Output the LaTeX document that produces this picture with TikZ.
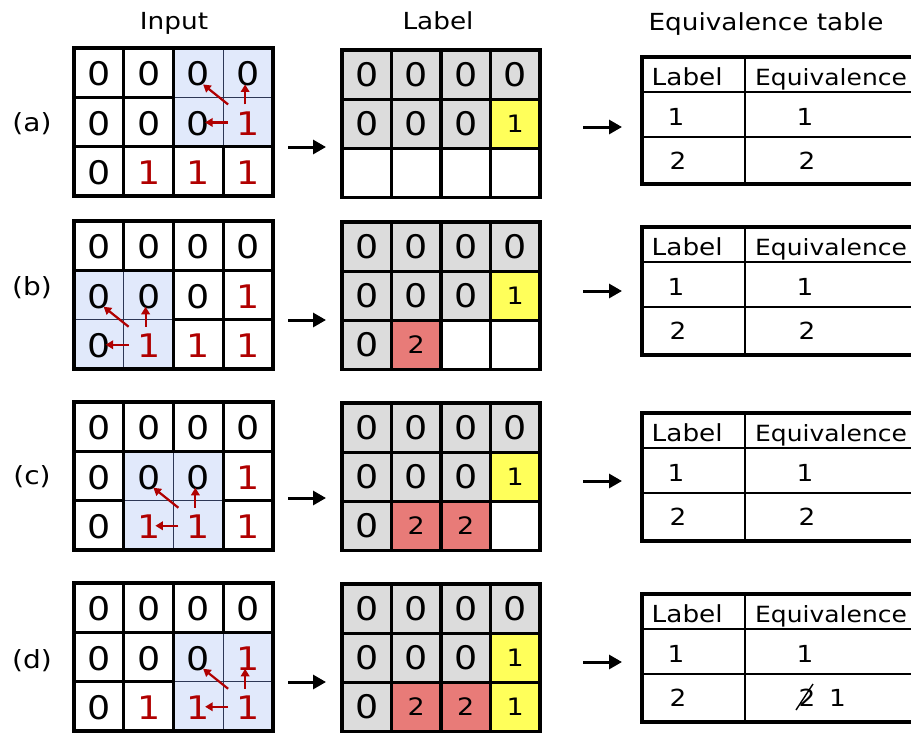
\documentclass[tikz,border=0pt]{standalone}
\usepackage{fontspec}
\setmainfont{DejaVu Sans}[FakeStretch=1.12]
\usetikzlibrary{arrows.meta,calc}
\definecolor{cellblue}{RGB}{225,233,251}
\definecolor{navyline}{RGB}{45,55,85}
\definecolor{cellgray}{RGB}{220,220,220}
\definecolor{cellyellow}{RGB}{255,255,90}
\definecolor{cellred}{RGB}{232,123,120}
\definecolor{darkred}{RGB}{176,0,0}
\tikzset{
  bigdigit/.style={font=\fontsize{32.5}{36}\selectfont},
  smalldigit/.style={font=\fontsize{24}{28}\selectfont},
  txt/.style={font=\fontsize{23.5}{27}\selectfont, inner sep=0pt},
  eqtxt/.style={font=\fontsize{22.3}{26}\selectfont, inner sep=0pt},
  digitnode/.style={inner sep=0pt},
  gridline/.style={line width=3.2pt},
  labcell/.style={minimum width=49.5pt, minimum height=49.2pt, inner sep=0pt, draw=none},
  redarrow/.style={draw=darkred, line width=2.2pt, -{Triangle[length=7.5pt,width=8.5pt]}},
  flowarrow/.style={draw=black, line width=3pt, -{Triangle[length=13pt,width=14pt]}},
  tabouter/.style={line width=3.4pt},
  tabinner/.style={line width=1.7pt},
}
\begin{document}
\begin{tikzpicture}[x=1pt,y=-1pt]
\useasboundingbox (0,0) rectangle (911,732);
\clip (0,0) rectangle (911,732);
\def\iw{49.75}\def\ih{49.3}\def\lw{49.5}\def\lh{49.2}

% titles
\node[txt, anchor=base] (title-in) at (174,29) {Input};
\node[txt, anchor=base] (title-lab) at (438,29) {Label};
\node[txt, anchor=base] (title-eq) at (766,30) {Equivalence table};

% input grids
\foreach \p/\y/\br/\bc/\ly in {a/48/1/3/124, b/221/2/1/288, c/402/2/2/477, d/583/2/3/661}{
  \node[font=\fontsize{25}{29}\selectfont, inner sep=0pt] (tag-\p) at (32,\ly) {(\p)};
  \draw[gridline] (74,\y) rectangle ({74+4*\iw},{\y+3*\ih});
  \foreach \i in {1,2,3} \draw[gridline] ({74+\i*\iw},\y) -- ++(0,{3*\ih});
  \foreach \i in {1,2} \draw[gridline] (74,{\y+\i*\ih}) -- ++({4*\iw},0);
  \fill[cellblue] ({74+(\bc-1)*\iw+1.6},{\y+(\br-1)*\ih+1.6}) rectangle ({74+(\bc+1)*\iw-1.6},{\y+(\br+1)*\ih-1.6});
  \draw[navyline, line width=1.1pt] ({74+\bc*\iw},{\y+(\br-1)*\ih+1.6}) -- ++(0,{2*\ih-3.2});
  \draw[navyline, line width=1.1pt] ({74+(\bc-1)*\iw+1.6},{\y+\br*\ih}) -- ++({2*\iw-3.2},0);
  \foreach \r in {1,2,3}{
    \foreach \c in {1,2,3,4}{
      \pgfmathtruncatemacro\v{((\r==2)&&(\c==4))||((\r==3)&&(\c>1))}
      \ifnum\v=1 \def\tc{darkred}\else\def\tc{black}\fi
      \node[bigdigit, digitnode, text=\tc] (in-\p-\r-\c) at ({74+(\c-0.5)*\iw},{\y+(\r-0.5)*\ih+1.5}) {\v};
    }
  }
  \pgfmathtruncatemacro\sr{\br+1}
  \pgfmathtruncatemacro\sc{\bc+1}
  \draw[redarrow] ($(in-\p-\sr-\sc)+(-20,-1)$) -- ($(in-\p-\sr-\sc)+(-43,-1)$);
  \draw[redarrow] ($(in-\p-\sr-\sc)+(-3,-19)$) -- ($(in-\p-\sr-\sc)+(-3,-39)$);
  \draw[redarrow] ($(in-\p-\sr-\sc)+(-20,-19)$) -- ($(in-\p-\sr-\sc)+(-45,-39)$);
}

% label grids
\foreach \p/\y/\rowthree in {a/50/{white//smalldigit,white//smalldigit,white//smalldigit,white//smalldigit},
  b/222/{cellgray/0/bigdigit,cellred/2/smalldigit,white//smalldigit,white//smalldigit},
  c/403/{cellgray/0/bigdigit,cellred/2/smalldigit,cellred/2/smalldigit,white//smalldigit},
  d/584/{cellgray/0/bigdigit,cellred/2/smalldigit,cellred/2/smalldigit,cellyellow/1/smalldigit}}{
  \foreach \r in {1,2}{
    \foreach \c in {1,2,3,4}{
      \pgfmathtruncatemacro\isy{(\r==2)&&(\c==4)}
      \ifnum\isy=1
        \node[labcell, fill=cellyellow, smalldigit] (lb-\p-\r-\c) at ({342+(\c-0.5)*\lw},{\y+(\r-0.5)*\lh}) {1};
      \else
        \node[labcell, fill=cellgray, bigdigit] (lb-\p-\r-\c) at ({342+(\c-0.5)*\lw},{\y+(\r-0.5)*\lh}) {0};
      \fi
    }
  }
  \foreach \f/\t/\s [count=\c] in \rowthree{
    \node[labcell, fill=\f, \s] (lb-\p-3-\c) at ({342+(\c-0.5)*\lw},{\y+2.5*\lh}) {\t};
  }
  \draw[gridline] (342,\y) rectangle ({342+4*\lw},{\y+3*\lh});
  \foreach \i in {1,2,3} \draw[gridline] ({342+\i*\lw},\y) -- ++(0,{3*\lh});
  \foreach \i in {1,2} \draw[gridline] (342,{\y+\i*\lh}) -- ++({4*\lw},0);
}

% flow arrows
\foreach \p/\ya/\yb in {a/147/127, b/320/291, c/498/481, d/682/662}{
  \coordinate (fa-\p-s) at (288,\ya);
  \coordinate (fa-\p-e) at (326,\ya);
  \draw[flowarrow] (fa-\p-s) -- (fa-\p-e);
  \coordinate (fb-\p-s) at (583,\yb);
  \coordinate (fb-\p-e) at (622,\yb);
  \draw[flowarrow] (fb-\p-s) -- (fb-\p-e);
}

% equivalence tables
\foreach \p/\t/\ra/\rb/\bt in {a/57/92/137/184, b/227/262/307/355, c/413/448/493/541, d/594/629/674/722}{
  \draw[tabinner] (642,\ra) -- (930,\ra);
  \draw[tabinner] (642,\rb) -- (930,\rb);
  \draw[tabinner] (745,\t) -- (745,\bt);
  \draw[tabouter] (642,\t) rectangle (930,\bt);
  \node[txt, anchor=base west] (th1-\p) at (651.5,{\t+28}) {Label};
  \node[eqtxt, anchor=base west] (th2-\p) at (755,{\t+28}) {Equivalence};
  \node[txt, anchor=base] (tl1-\p) at (676,{\ra+33}) {1};
  \node[txt, anchor=base] (te1-\p) at (805,{\ra+33}) {1};
  \node[txt, anchor=base] (tl2-\p) at (678,{\rb+32}) {2};
}
\foreach \p/\rb in {a/137, b/307, c/493}{
  \node[txt, anchor=base] (te2-\p) at (807,{\rb+32}) {2};
}
\node[txt, anchor=base] (te2-d) at (807,706) {2};
\node[txt, anchor=base] (te3-d) at (837.5,706) {1};
\draw[line width=1.4pt] (te2-d.base) ++(-11,4) -- ++(17,-26);
\end{tikzpicture}
\end{document}
